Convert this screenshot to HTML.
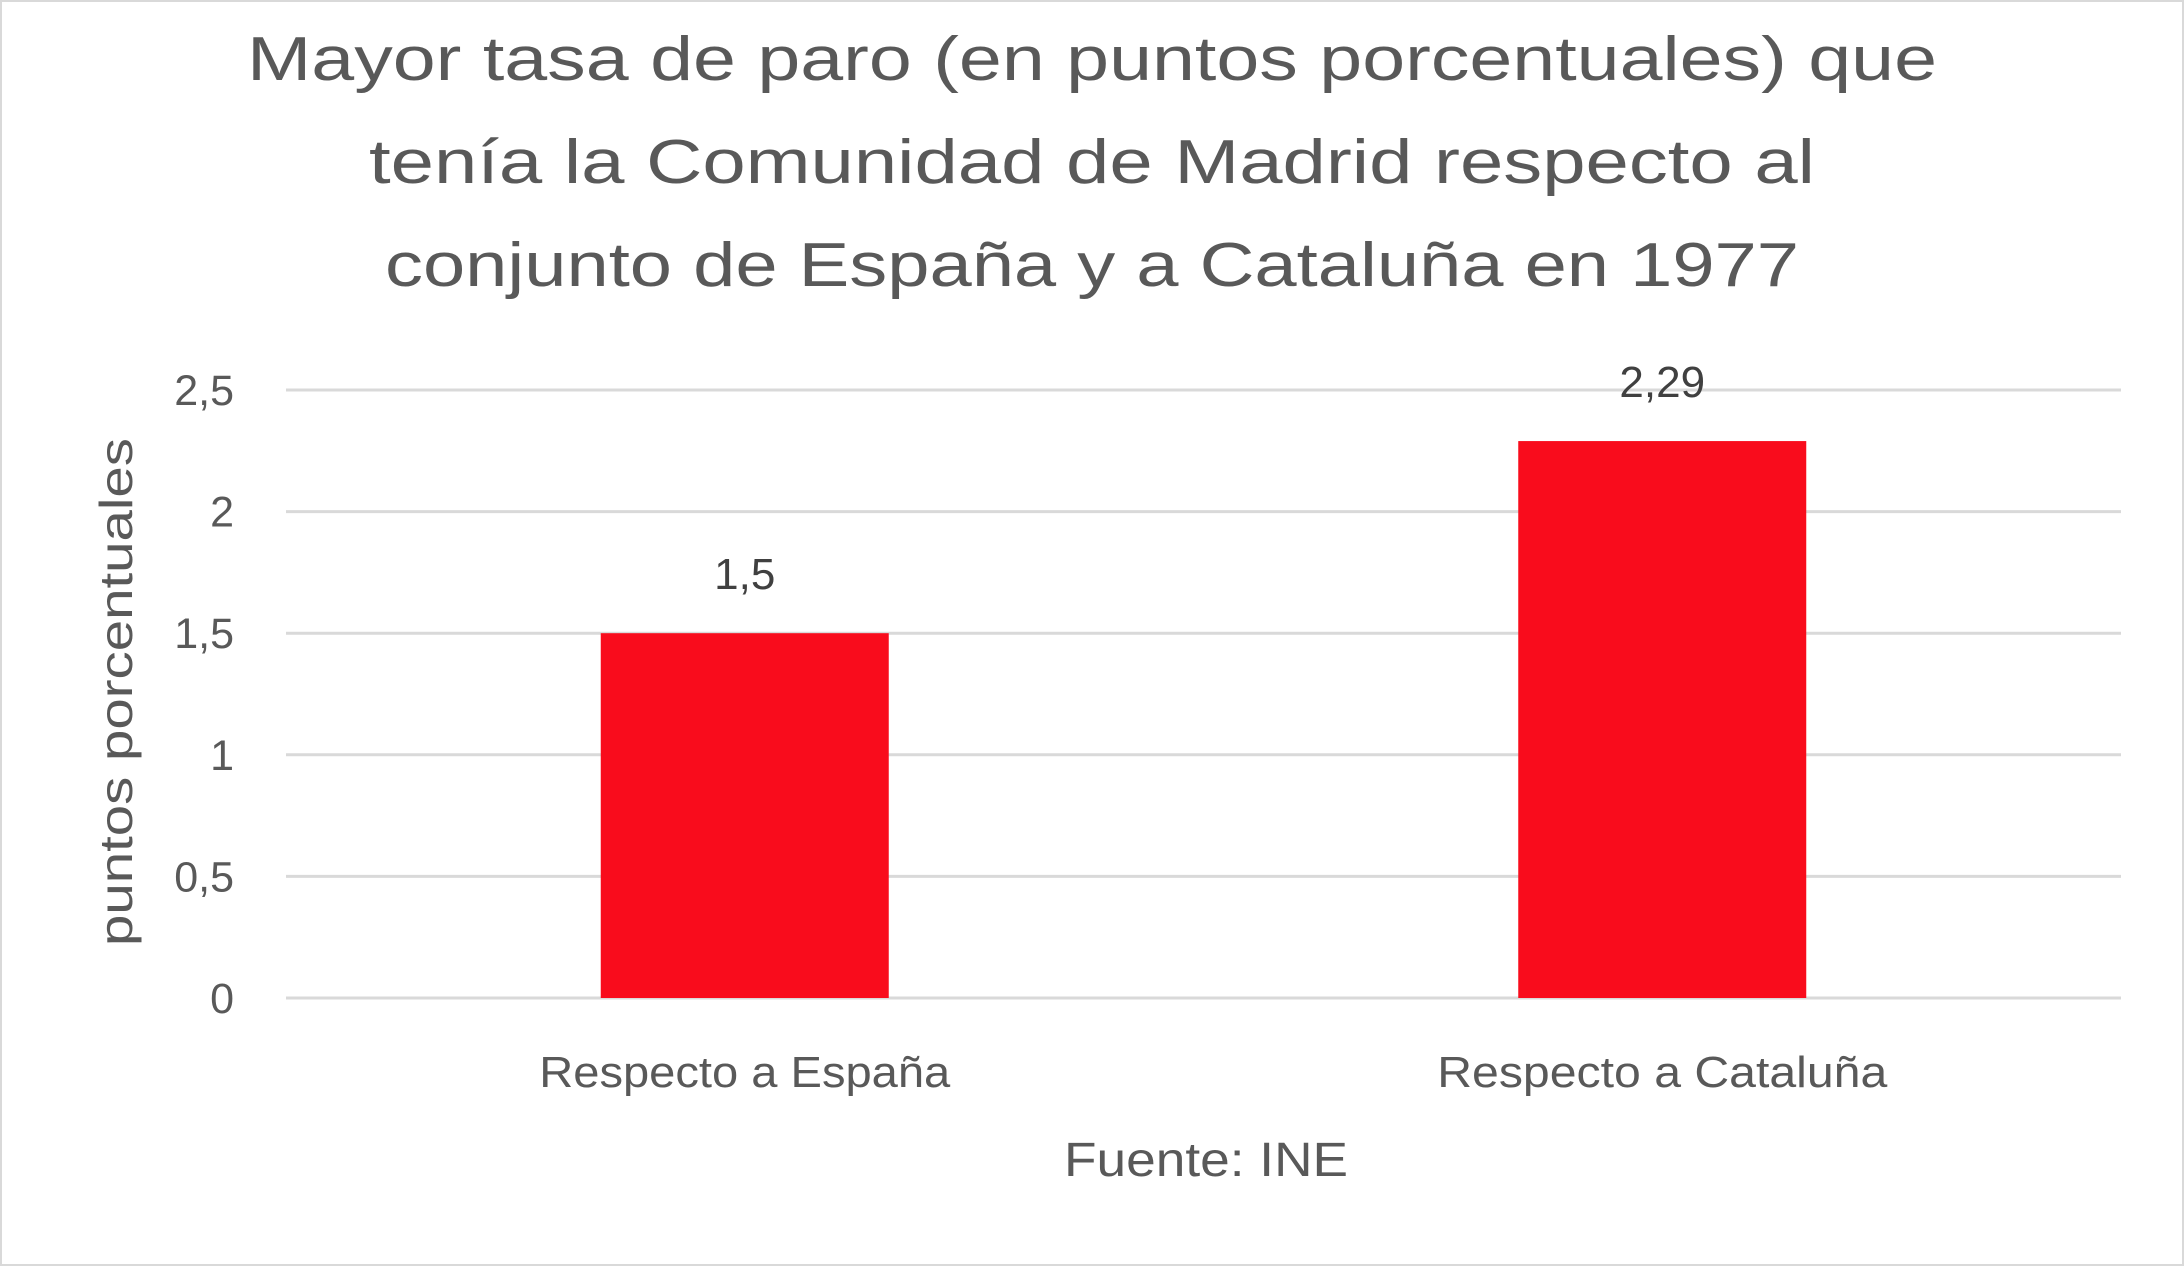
<!DOCTYPE html>
<html><head><meta charset="utf-8"><style>
html,body{margin:0;padding:0;background:#fff;}
svg{display:block;font-family:"Liberation Sans",sans-serif;}
</style></head><body>
<svg id="chart" width="2184" height="1266" viewBox="0 0 2184 1266">
<rect x="1" y="1" width="2182" height="1264" fill="#fff" stroke="#d9d9d9" stroke-width="2"/>
<g fill="#595959" font-size="62" text-anchor="middle">
<text x="1092" y="80" textLength="1690" lengthAdjust="spacingAndGlyphs">Mayor tasa de paro (en puntos porcentuales) que</text>
<text x="1092" y="183" textLength="1446" lengthAdjust="spacingAndGlyphs">tenía la Comunidad de Madrid respecto al</text>
<text x="1092" y="286" textLength="1414" lengthAdjust="spacingAndGlyphs">conjunto de España y a Cataluña en 1977</text>
</g>
<g id="grid"></g><g id="bars"></g><g id="labels"></g>
<text transform="translate(132,692) rotate(-90)" text-anchor="middle" fill="#595959" font-size="46" textLength="508" lengthAdjust="spacingAndGlyphs">puntos porcentuales</text>
<text x="1206" y="1176" text-anchor="middle" fill="#595959" font-size="48" textLength="284" lengthAdjust="spacingAndGlyphs">Fuente: INE</text>
</svg>
<script>
const categories=["Respecto a España","Respecto a Cataluña"];
const values=[1.5,2.29];
const valueLabels=["1,5","2,29"];
const ticks=[0,0.5,1,1.5,2,2.5];
const tickLabels=["0","0,5","1","1,5","2","2,5"];
const NS="http://www.w3.org/2000/svg";
const x0=286,x1=2121,y0=998,y1=390,ymax=2.5;
const y=v=>y0-(v/ymax)*(y0-y1);
const band=(x1-x0)/categories.length;
function mk(t,a,p){const e=document.createElementNS(NS,t);for(const k in a)e.setAttribute(k,a[k]);p.appendChild(e);return e;}
const g=document.getElementById('grid'),b=document.getElementById('bars'),l=document.getElementById('labels');
ticks.forEach((t,i)=>{
 const ln=mk('line',{x1:x0,x2:x1,y1:y(t),y2:y(t),stroke:'#d9d9d9','stroke-width':3},g);
 
 
 const tx=mk('text',{x:234,y:y(t)+15,'text-anchor':'end',fill:'#595959','font-size':43},l);
 tx.textContent=tickLabels[i];
 
 
});
categories.forEach((c,i)=>{
 const cx=x0+band*(i+0.5),w=288;
 const r=mk('rect',{x:cx-w/2,y:y(values[i]),width:w,height:y0-y(values[i]),fill:'#f90c1c'},b);
 
 
 const vl=mk('text',{x:cx,y:y(values[i])-44,'text-anchor':'middle',fill:'#404040','font-size':44},l);
 vl.textContent=valueLabels[i];
 
 
 const cl=mk('text',{x:cx,y:1087,'text-anchor':'middle',fill:'#595959','font-size':44,textLength:(i===0?411:450),lengthAdjust:'spacingAndGlyphs'},l);
 cl.textContent=c;
 
 
});
</script>
</body></html>
